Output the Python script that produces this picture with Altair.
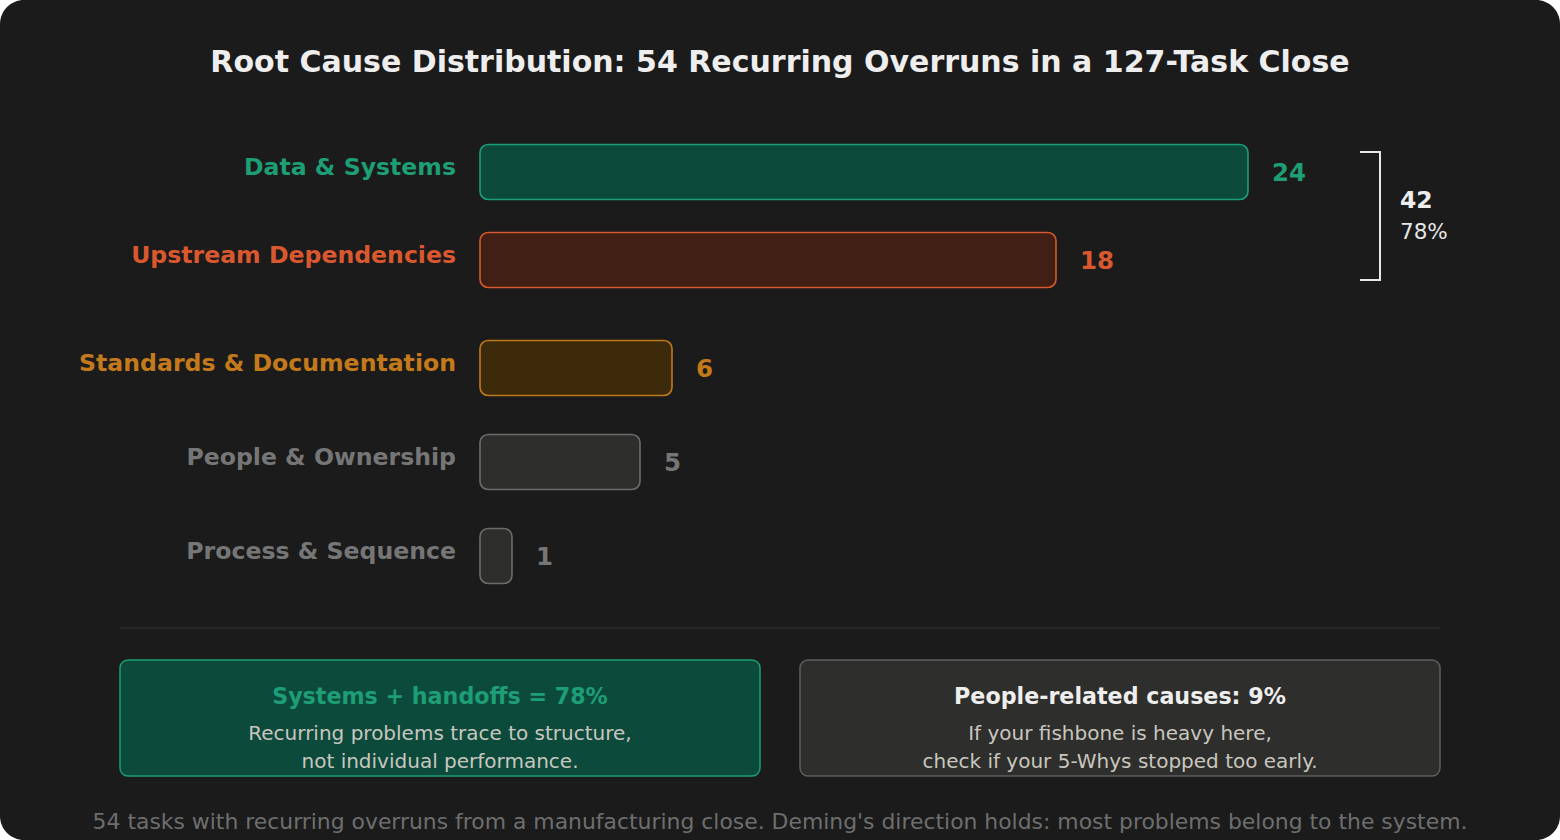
import altair as alt
import pandas as pd

# ---- data ----
categories = [
    "Data & Systems",
    "Upstream Dependencies",
    "Standards & Documentation",
    "People & Ownership",
    "Process & Sequence",
]
counts = [24, 18, 6, 5, 1]
total_tasks = 127
bracketed = 2  # the first two causes are summed in the bracket

title_text = f"Root Cause Distribution: {sum(counts)} Recurring Overruns in a {total_tasks}-Task Close"
card_left_head = "Systems + handoffs = {pct}%"
card_left_body = ["Recurring problems trace to structure,", "not individual performance."]
card_right_head = "People-related causes: {pct}%"
card_right_body = ["If your fishbone is heavy here,", "check if your 5-Whys stopped too early."]
footer_text = (f"{sum(counts)} tasks with recurring overruns from a manufacturing close. "
               "Deming's direction holds: most problems belong to the system.")

# ---- styles ----
FONT = "DejaVu Sans"
fill_colors = ["#0c4a3c", "#411f14", "#3c2a0b", "#2e2e2c", "#2e2e2c"]
stroke_colors = ["#1d9e75", "#d4592f", "#c07a1a", "#6b6b6b", "#6b6b6b"]
text_colors = ["#1d9e75", "#d9582f", "#c47a1a", "#767676", "#767676"]
group_ranges = [[172, 260], [368, 556]]

total = sum(counts)
top2 = sum(counts[:bracketed])
top2_pct = round(top2 / total * 100)
people_pct = round(counts[3] / total * 100)

df = pd.DataFrame({
    "category": categories,
    "count": counts,
    "barfill": fill_colors,
    "barline": stroke_colors,
    "tcolor": text_colors,
})
one = pd.DataFrame({"k": [0]})

xscale = alt.Scale(domain=[0, max(counts)], range=[480, 1248])


def group_layers(sub, rng):
    cats = list(sub["category"])
    ys = alt.Scale(type="point", domain=cats, range=rng, padding=0)
    Y = alt.Y("category:N", scale=ys, axis=None, sort=cats)
    bars = alt.Chart(sub).mark_bar(
        size=55, cornerRadius=8, strokeWidth=1.6, opacity=1, fillOpacity=1, strokeOpacity=1
    ).encode(
        x=alt.X("count:Q", scale=xscale, axis=None, stack=None),
        y=Y,
        fill=alt.Fill("barfill:N", scale=None),
        stroke=alt.Stroke("barline:N", scale=None),
    )
    labels = alt.Chart(sub).mark_text(
        font=FONT, fontSize=23.6, fontWeight="bold", align="right", baseline="middle", dy=-4
    ).encode(x=alt.value(456), y=Y, text="category:N", color=alt.Color("tcolor:N", scale=None))
    values = alt.Chart(sub).mark_text(
        font=FONT, fontSize=24.5, fontWeight="bold", align="left", baseline="middle", dx=24, dy=2
    ).encode(x=alt.X("count:Q", scale=xscale, axis=None), y=Y, text="count:Q",
             color=alt.Color("tcolor:N", scale=None))
    return [bars, labels, values], ys


g1, ys1 = group_layers(df.iloc[:bracketed], group_ranges[0])
g2, _ = group_layers(df.iloc[bracketed:], group_ranges[1])

card = alt.Chart(one).mark_rect(fill="#1b1b1b", cornerRadius=24).encode(
    x=alt.value(0), x2=alt.value(1560), y=alt.value(0), y2=alt.value(840))

title = alt.Chart(one).mark_text(
    text=title_text, font=FONT, fontSize=30, fontWeight="bold", color="#eeeeee",
    align="center", baseline="middle").encode(x=alt.value(780), y=alt.value(63))

bracket_df = pd.DataFrame({"top": [categories[0]], "bottom": [categories[bracketed - 1]]})
bcol = "#e8e8e8"
b_vert = alt.Chart(bracket_df).mark_rule(color=bcol, strokeWidth=2, yOffset=-20, y2Offset=20).encode(
    x=alt.value(1380), y=alt.Y("top:N", scale=ys1, axis=None), y2=alt.Y2("bottom"))
b_top = alt.Chart(bracket_df).mark_rule(color=bcol, strokeWidth=2, yOffset=-20).encode(
    x=alt.value(1360), x2=alt.value(1381), y=alt.Y("top:N", scale=ys1, axis=None))
b_bot = alt.Chart(bracket_df).mark_rule(color=bcol, strokeWidth=2, yOffset=20).encode(
    x=alt.value(1360), x2=alt.value(1381), y=alt.Y("bottom:N", scale=ys1, axis=None))

b_num = alt.Chart(one).mark_text(
    text=str(top2), font=FONT, fontSize=23.5, fontWeight="bold", color="#eeeeee",
    align="left", baseline="middle").encode(x=alt.value(1400), y=alt.value(201))
b_pct = alt.Chart(one).mark_text(
    text=f"{top2_pct}%", font=FONT, fontSize=21.5, color="#e6e6e6",
    align="left", baseline="middle").encode(x=alt.value(1400), y=alt.value(233))

divider = alt.Chart(one).mark_rule(color="#343434", strokeWidth=1).encode(
    x=alt.value(120), x2=alt.value(1440), y=alt.value(628))

box_l = alt.Chart(one).mark_rect(fill="#0c4a3c", stroke="#1d9e75", strokeWidth=1.5, cornerRadius=8).encode(
    x=alt.value(120), x2=alt.value(760), y=alt.value(660), y2=alt.value(776))
box_r = alt.Chart(one).mark_rect(fill="#2e2e2c", stroke="#5e5e5e", strokeWidth=1.5, cornerRadius=8).encode(
    x=alt.value(800), x2=alt.value(1440), y=alt.value(660), y2=alt.value(776))


def txt(s, x, y, size, color, bold=False):
    return alt.Chart(one).mark_text(
        text=s, font=FONT, fontSize=size, fontWeight="bold" if bold else "normal",
        color=color, align="center", baseline="middle").encode(x=alt.value(x), y=alt.value(y))


body_col = "#c9c6bf"
texts = [
    txt(card_left_head.format(pct=top2_pct), 440, 697, 22.2, "#1d9e75", True),
    txt(card_left_body[0], 440, 734, 20, body_col),
    txt(card_left_body[1], 440, 762, 20, body_col),
    txt(card_right_head.format(pct=people_pct), 1120, 697, 22.2, "#eeeeee", True),
    txt(card_right_body[0], 1120, 734, 20, body_col),
    txt(card_right_body[1], 1120, 762, 20, body_col),
    txt(footer_text, 780, 822, 21.9, "#6e6e6e"),
]

chart = alt.layer(
    card, title, *g1, *g2, b_vert, b_top, b_bot, b_num, b_pct,
    divider, box_l, box_r, *texts
).resolve_scale(y="independent").properties(
    width=1560, height=840, padding=0, autosize=alt.AutoSizeParams(type="none"),
    background="#ffffff"
).configure_view(stroke=None)

chart.save("out.html", embed_options={"renderer": "svg", "actions": False})
